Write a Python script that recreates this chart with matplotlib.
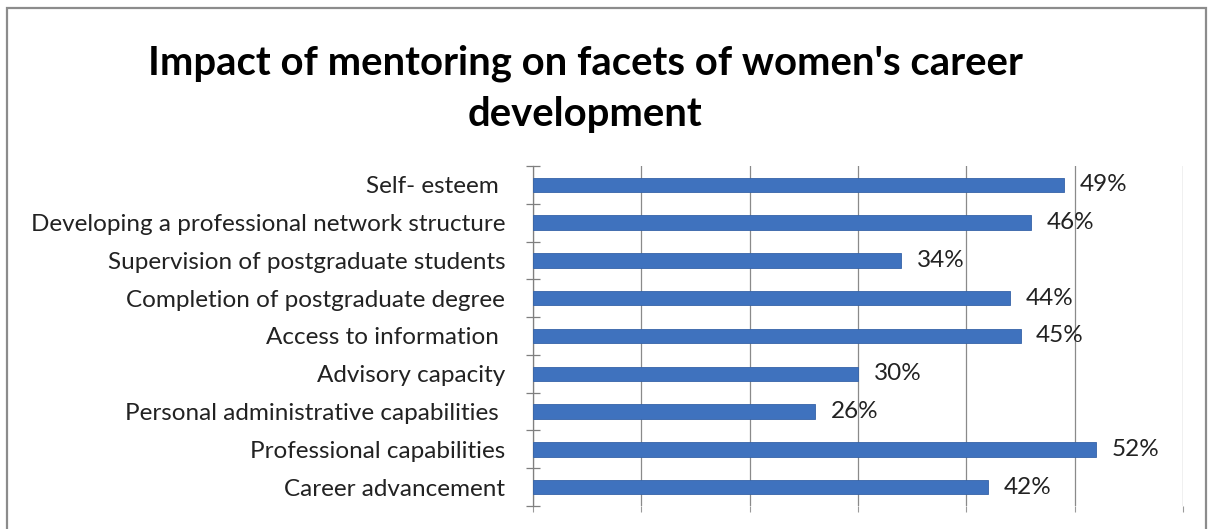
import matplotlib
matplotlib.use("Agg")
import matplotlib.pyplot as plt
from matplotlib.patches import Rectangle
import numpy as np

categories = [
    "Self- esteem ",
    "Developing a professional network structure",
    "Supervision of postgraduate students",
    "Completion of postgraduate degree",
    "Access to information ",
    "Advisory capacity",
    "Personal administrative capabilities ",
    "Professional capabilities",
    "Career advancement",
]
values = [49, 46, 34, 44, 45, 30, 26, 52, 42]
value_labels = ["49%", "46%", "34%", "44%", "45%", "30%", "26%", "52%", "42%"]

title = "Impact of mentoring on facets of women's career\ndevelopment"

W, H = 1209, 529
fig = plt.figure(figsize=(W / 100, H / 100), dpi=100)
fig.patch.set_facecolor("white")

# outer chart frame
fig.add_artist(Rectangle((7 / W, -0.05), (1206 - 7) / W, 1 - 8 / H + 0.05,
                         transform=fig.transFigure, fill=False,
                         edgecolor="#8c8c8c", linewidth=1.6))

ax = fig.add_axes([533 / W, 1 - 506 / H, (1183 - 533) / W, (506 - 166) / H])

font = "Lato"
bar_color = "#3f72be"
n = len(categories)
ypos = np.arange(n)

ax.barh(ypos, values, height=0.38, color=bar_color,
        edgecolor="#3563a8", linewidth=0.6, zorder=3)

for y, v, lab in zip(ypos, values, value_labels):
    ax.text(v + 1.45, y, lab, va="center", ha="left", fontsize=17.5,
            family=font, color="#222222")

ax.set_xlim(0, 60)
ax.set_ylim(n - 0.5, -0.5)
ax.set_xticks(np.arange(0, 61, 10))
ax.set_xticklabels([])
ax.xaxis.grid(True, color="#8a8a8a", linewidth=0.9, zorder=0)
ax.tick_params(axis="x", length=4, color="#9a9a9a", direction="out")

ax.set_yticks(ypos)
ax.set_yticklabels(categories, fontsize=17.5, family=font, color="#222222")
ax.set_yticks(np.arange(-0.5, n, 1.0), minor=True)
ax.tick_params(axis="y", which="major", length=0, pad=20)
ax.tick_params(axis="y", which="minor", length=10, direction="inout",
               color="#7f7f7f", width=0.9)

for side in ("top", "right", "bottom"):
    ax.spines[side].set_visible(False)
ax.spines["left"].set_color("#7f7f7f")
ax.spines["left"].set_linewidth(0.9)

fig.text(585 / W, 1 - 89 / H, title, ha="center", va="center",
         fontsize=28.8, fontweight="bold", family=font, linespacing=1.45,
         color="black")

fig.savefig("out.png", dpi=100, facecolor="white")
